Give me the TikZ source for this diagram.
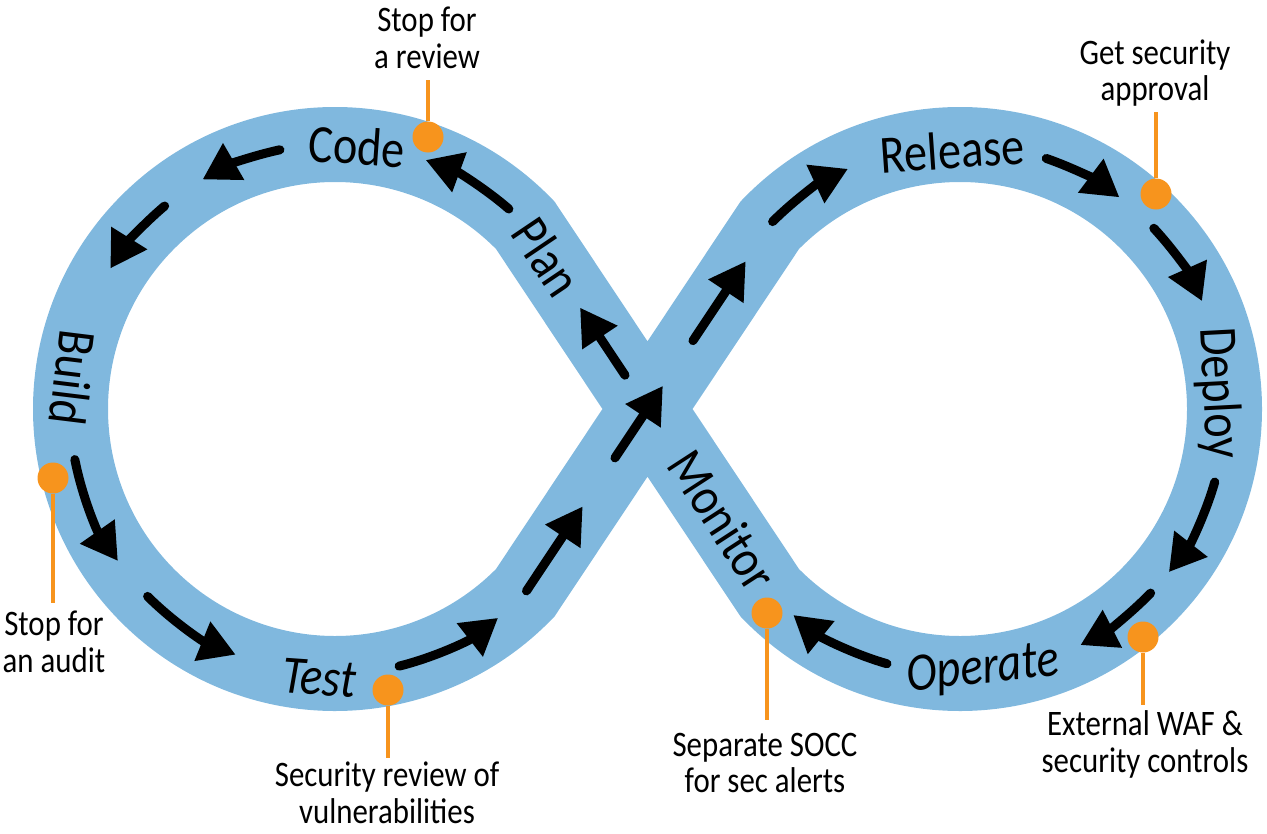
\documentclass[tikz,border=0pt]{standalone}
\usepackage{fontspec}
\setmainfont{Carlito}[FakeStretch=0.86]
\usetikzlibrary{arrows.meta,calc}
\definecolor{bandblue}{RGB}{128,184,222}
\definecolor{dotorange}{RGB}{247,148,29}
\begin{document}
\begin{tikzpicture}[x=1bp,y=-1bp,
  band/.style={draw=bandblue, line width=75bp, line join=miter},
  flow/.style={line width=9bp, line cap=round, -{Triangle[length=36bp,width=40bp]}},
  stage/.style={font=\fontsize{54}{60}\selectfont, inner sep=0pt},
  note/.style={font=\fontsize{36}{37}\selectfont, align=center, inner sep=0pt},
  dot/.style={circle, fill=dotorange, minimum size=31bp, inner sep=0pt},
  lead/.style={draw=dotorange, line width=4bp}]
\useasboundingbox (0,0) rectangle (1267,834);
% geometry
\coordinate (CL) at (335,409);
\coordinate (CR) at (960,409);
\coordinate (X) at (647.5,409);
\coordinate (K1) at ($(CL)+(-44:264.5)$);
\coordinate (K2) at ($(CL)+(44:264.5)$);
\coordinate (K3) at ($(CR)+(224:264.5)$);
\coordinate (K4) at ($(CR)+(136:264.5)$);
% band
\draw[band] (X) -- (K1) arc[start angle=-44, end angle=-316, radius=264.5]
  -- (X) -- (K3) arc[start angle=224, end angle=496, radius=264.5] -- cycle;
% arrows, left loop
\draw[flow] ($(CL)+(-102:265)$) arc[start angle=-102, end angle=-120, radius=265];
\draw[flow] ($(CL)+(-130:265)$) arc[start angle=-130, end angle=-148, radius=265];
\draw[flow] ($(CL)+(169:265)$) arc[start angle=169, end angle=145, radius=265];
\draw[flow] ($(CL)+(135:265)$) arc[start angle=135, end angle=112, radius=265];
\draw[flow] ($(CL)+(76:265)$) arc[start angle=76, end angle=52, radius=265];
\draw[flow] ($(K2)!0.01!(X)$) -- ($(K2)!0.47!(X)$);
\draw[flow] ($(K2)!0.367!(K3)$) -- ($(K2)!0.563!(K3)$);
\draw[flow] ($(K4)!0.592!(K1)$) -- ($(K4)!0.776!(K1)$);
\draw[flow] ($(CL)+(-49:265)$) arc[start angle=-49, end angle=-70, radius=265];
% arrows, right loop
\draw[flow] ($(K2)!0.686!(K3)$) -- ($(K2)!0.902!(K3)$);
\draw[flow] ($(CR)+(225:265)$) arc[start angle=225, end angle=245, radius=265];
\draw[flow] ($(CR)+(289:265)$) arc[start angle=289, end angle=307, radius=265];
\draw[flow] ($(CR)+(317:265)$) arc[start angle=317, end angle=336, radius=265];
\draw[flow] ($(CR)+(16:265)$) arc[start angle=16, end angle=38, radius=265];
\draw[flow] ($(CR)+(44:265)$) arc[start angle=44, end angle=63, radius=265];
\draw[flow] ($(CR)+(106:265)$) arc[start angle=106, end angle=129, radius=265];
% stage labels
\node[stage, rotate=-4] (code) at (357,146) {Code};
\node[stage, rotate=-56] (plan) at (547,257) {Plan};
\node[stage, rotate=-97] (build) at (73,378) {Build};
\node[stage, rotate=-4, font=\fontsize{54}{60}\selectfont\itshape] (test) at (319,678) {Test};
\node[stage, rotate=4] (release) at (952,150) {Release};
\node[stage, rotate=-87] (deploy) at (1218,393) {Deploy};
\node[stage, rotate=-57] (monitor) at (723,520) {Monitor};
\node[stage, rotate=6, font=\fontsize{54}{60}\selectfont\itshape] (operate) at (983,670) {Operate};
% callouts
\node[note] (n1) at (427,38) {Stop for\\a review};
\coordinate (e1) at (428,80);
\node[dot] (d1) at (428,137) {};
\draw[lead] (d1) -- (e1);
\node[note] (n2) at (1155,73) {Get security\\approval};
\coordinate (e2) at (1156,112);
\node[dot] (d2) at (1156,194) {};
\draw[lead] (d2) -- (e2);
\node[note] (n3) at (54,642) {Stop for\\an audit};
\coordinate (e3) at (53,603);
\node[dot] (d3) at (53,478) {};
\draw[lead] (d3) -- (e3);
\node[note] (n4) at (387,793) {Security review of\\vulnerabilities};
\coordinate (e4) at (388,758);
\node[dot] (d4) at (388,690) {};
\draw[lead] (d4) -- (e4);
\node[note] (n5) at (765,763) {Separate SOCC\\for sec alerts};
\coordinate (e5) at (767,720);
\node[dot] (d5) at (767,613) {};
\draw[lead] (d5) -- (e5);
\node[note] (n6) at (1145,744) {External WAF \&\\security controls};
\coordinate (e6) at (1143,705);
\node[dot] (d6) at (1143,637) {};
\draw[lead] (d6) -- (e6);
\end{tikzpicture}
\end{document}
